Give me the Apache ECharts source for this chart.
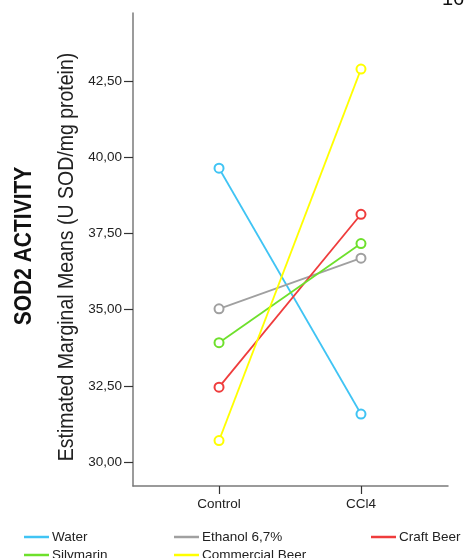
<!DOCTYPE html>
<html><head><meta charset="utf-8">
<script src="https://cdn.jsdelivr.net/npm/echarts@6/dist/echarts.min.js"></script>
<style>html,body{margin:0;padding:0;background:#fff}#c{width:464px;height:558px}</style>
</head><body><div id="c"></div>
<script>
const categories = ['Control', 'CCl4'];
const seriesNames = ['Water', 'Ethanol 6,7%', 'Craft Beer', 'Silymarin', 'Commercial Beer'];
const water = [39.64, 31.58];
const ethanol = [35.03, 36.69];
const craftBeer = [32.46, 38.13];
const silymarin = [33.92, 37.17];
const commercialBeer = [30.71, 42.89];
const yTicks = [30, 32.5, 35, 37.5, 40, 42.5];
const colors = ['#40c4f4', '#a0a0a0', '#ef3c3c', '#6ee02c', '#ffff00'];
const values = [water, ethanol, craftBeer, silymarin, commercialBeer];

const font = 'Liberation Sans, Arial, sans-serif';
const chart = echarts.init(document.getElementById('c'), null, {renderer: 'canvas'});
const legendPos = [[19, 525], [169, 525], [366, 525], [19, 543], [169, 543]];
chart.setOption({
  animation: false,
  textStyle: {fontFamily: font},
  grid: {left: 133, right: 16, top: 13, bottom: 72},
  xAxis: {
    type: 'value', min: -0.606, max: 1.613,
    axisLine: {onZero: false, lineStyle: {color: '#7a7a7a', width: 1.5}},
    splitLine: {show: false},
    axisTick: {customValues: [0, 1], length: 8, lineStyle: {color: '#333', width: 1.2}},
    axisLabel: {customValues: [0, 1], formatter: v => categories[Math.round(v)], color: '#222', fontSize: 13.5, margin: 11}
  },
  yAxis: {
    type: 'value', min: 29.22, max: 44.73,
    axisLine: {show: true, onZero: false, lineStyle: {color: '#7a7a7a', width: 1.5}},
    splitLine: {show: false},
    axisTick: {show: true, customValues: yTicks, length: 9, lineStyle: {color: '#333', width: 1.2}},
    axisLabel: {customValues: yTicks, formatter: v => v.toFixed(2).replace('.', ','), color: '#222', fontSize: 13.5, margin: 11}
  },
  legend: legendPos.map((p, i) => ({
    data: [seriesNames[i]], left: p[0], top: p[1], icon: 'rect', itemWidth: 25, itemHeight: 2.5, itemGap: 4,
    textStyle: {fontSize: 13.5, color: '#222', fontFamily: font, padding: [0, 0, 0, -2]}
  })),
  graphic: [
    {type: 'text', x: 24, y: 246, rotation: Math.PI / 2, scaleY: 1.15, style: {text: 'SOD2 ACTIVITY', font: 'bold 21px Liberation Sans, Arial, sans-serif', fill: '#111', align: 'center', verticalAlign: 'middle'}},
    {type: 'text', x: 67, y: 257, rotation: Math.PI / 2, scaleY: 1.12, style: {text: 'Estimated Marginal Means (U SOD/mg protein)', font: '19.5px Liberation Sans, Arial, sans-serif', fill: '#222', align: 'center', verticalAlign: 'middle'}},
    {type: 'text', x: 442, y: -11, style: {text: '16', font: '20px Liberation Sans, Arial, sans-serif', fill: '#111'}}
  ],
  series: seriesNames.map((n, i) => ({
    name: n, type: 'line',
    data: values[i].map((v, j) => [j, v]),
    symbol: 'emptyCircle', symbolSize: 9,
    lineStyle: {color: colors[i], width: 1.8},
    itemStyle: {color: colors[i], borderWidth: 1.5},
    z: 2 + i
  }))
});
</script></body></html>
